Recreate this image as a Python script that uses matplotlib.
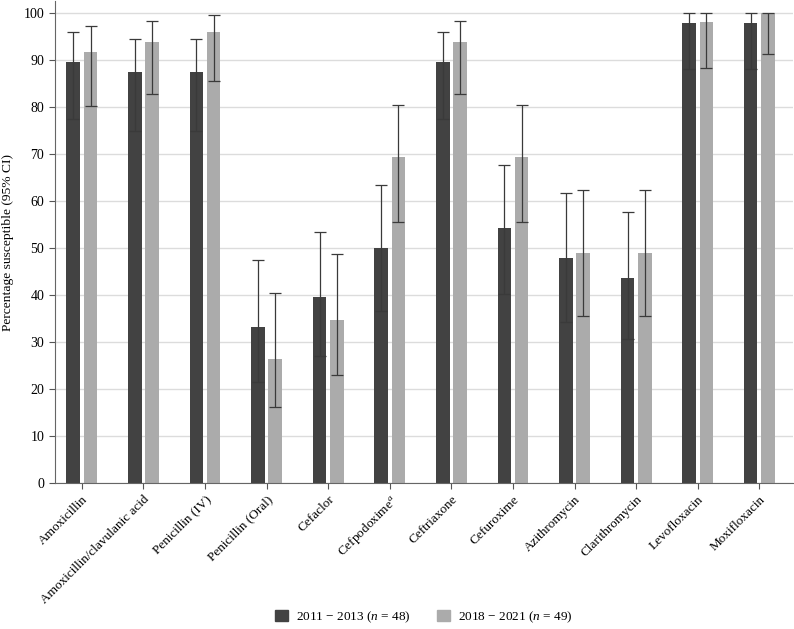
import matplotlib
matplotlib.use("Agg")
import matplotlib.pyplot as plt
import numpy as np
from matplotlib.patches import Patch

plt.rcParams['font.family'] = ['Liberation Serif', 'DejaVu Serif']
plt.rcParams['mathtext.fontset'] = 'custom'
plt.rcParams['mathtext.rm'] = 'Liberation Serif'
plt.rcParams['mathtext.it'] = 'Liberation Serif:italic'

categories = ["Amoxicillin", "Amoxicillin/clavulanic acid", "Penicillin (IV)", "Penicillin (Oral)",
              "Cefaclor", "Cefpodoxime$^{a}$", "Ceftriaxone", "Cefuroxime", "Azithromycin",
              "Clarithromycin", "Levofloxacin", "Moxifloxacin"]

s1_vals = [89.6, 87.5, 87.5, 33.3, 39.6, 50.0, 89.6, 54.2, 47.9, 43.7, 97.9, 97.9]
s1_low  = [77.4, 75.0, 75.0, 21.5, 27.0, 36.5, 77.4, 40.2, 34.3, 30.7, 88.1, 88.1]
s1_high = [96.0, 94.5, 94.5, 47.5, 53.5, 63.5, 96.0, 67.6, 61.7, 57.6, 99.9, 99.9]

s2_vals = [91.8, 93.9, 95.9, 26.5, 34.7, 69.4, 93.9, 69.4, 49.0, 49.0, 98.0, 100.0]
s2_low  = [80.3, 82.8, 85.5, 16.2, 22.9, 55.6, 82.8, 55.6, 35.6, 35.6, 88.4, 91.3]
s2_high = [97.2, 98.4, 99.6, 40.5, 48.8, 80.5, 98.4, 80.5, 62.4, 62.4, 99.9, 100.0]

labels = ["2011 \u2212 2013 ($\\it{n}$ = 48)", "2018 \u2212 2021 ($\\it{n}$ = 49)"]
colors = ["#424242", "#ababab"]

fig = plt.figure(figsize=(7.94, 6.29), dpi=100)
ax = fig.add_axes([0.069, 0.232, 0.93, 0.766])

x = np.arange(len(categories))
w = 0.22
off = 0.14
for vals, lo, hi, sign, c in [(s1_vals, s1_low, s1_high, -1, colors[0]),
                              (s2_vals, s2_low, s2_high, 1, colors[1])]:
    vals = np.array(vals); lo = np.array(lo); hi = np.array(hi)
    ax.bar(x + sign * off, vals, width=w, color=c, zorder=2)
    ax.errorbar(x + sign * off, vals, yerr=[vals - lo, hi - vals], fmt='none',
                ecolor='#3a3a3a', elinewidth=0.9, capsize=4, capthick=0.9, zorder=3)

ax.set_xlim(-0.44, 11.55)
ax.set_ylim(0, 102.5)
ax.set_yticks(np.arange(0, 101, 10))
ax.yaxis.grid(True, color='#dcdcdc', linewidth=1.0, zorder=0)
ax.set_axisbelow(True)
ax.set_xticks(x)
ax.set_xticklabels(categories, rotation=45, ha='right', rotation_mode='anchor', fontsize=9.5)
ax.tick_params(axis='y', labelsize=10, length=4, color='#555555')
ax.tick_params(axis='x', length=4, color='#555555')
for s in ['top', 'right']:
    ax.spines[s].set_visible(False)
for s in ['left', 'bottom']:
    ax.spines[s].set_color('#666666')
ax.set_ylabel("Percentage susceptible (95% CI)", fontsize=9.7, labelpad=7)

handles = [Patch(color=colors[0]), Patch(color=colors[1])]
fig.legend(handles, labels, loc='lower center', bbox_to_anchor=(0.534, -0.012), ncol=2,
           frameon=False, fontsize=9.5, handlelength=1.0, handleheight=1.0, columnspacing=2.0,
           handletextpad=0.6)

fig.savefig("out.png", dpi=100)
